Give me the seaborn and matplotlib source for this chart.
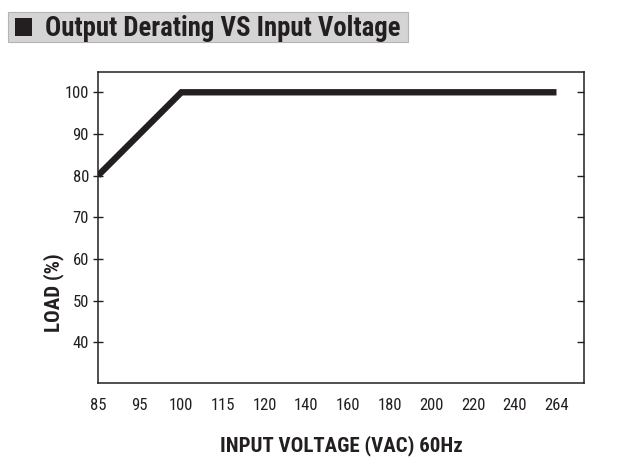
import matplotlib
matplotlib.use("Agg")
import matplotlib.pyplot as plt
from matplotlib import font_manager
from matplotlib.patches import Rectangle
import seaborn as sns
import pandas as pd

# ---- data ----
voltage_ticks = ["85", "95", "100", "115", "120", "140", "160", "180", "200", "220", "240", "264"]
curve_voltage = ["85", "100", "264"]
curve_load = [80, 100, 100]
load_ticks = [40, 50, 60, 70, 80, 90, 100]

title_text = "Output Derating VS Input Voltage"
xlabel_text = "INPUT VOLTAGE (VAC) 60Hz"
ylabel_text = "LOAD (%)"

sns.set_style("white")
fl = font_manager.fontManager.ttflist
names = {f.name for f in fl}
stretch = "normal"
fam = None
for cand in ["Liberation Sans Narrow", "Arial Narrow", "Roboto Condensed", "Open Sans Condensed"]:
    if cand in names:
        fam = cand
        break
if fam is None:
    cond = [f for f in fl if f.name == "DejaVu Sans" and str(f.stretch) in ("condensed", "semi-condensed")]
    if cond:
        fam = "DejaVu Sans"
        stretch = "condensed"
    else:
        fam = "Liberation Sans"
narrow = fam != "Liberation Sans"
plt.rcParams["font.family"] = [fam, "DejaVu Sans"]
plt.rcParams["font.stretch"] = stretch

df = pd.DataFrame({
    "pos": [voltage_ticks.index(v) for v in curve_voltage],
    "load": curve_load,
})

fig = plt.figure(figsize=(6.25, 4.65), dpi=100)
ax = fig.add_axes([98 / 625, 1 - 383 / 465, (584 - 98) / 625, (383 - 72.3) / 465])

sns.lineplot(data=df, x="pos", y="load", ax=ax, color="#231f20", linewidth=4.6,
             solid_capstyle="butt", solid_joinstyle="miter")

ax.set_xlim(0, 11.66)
ax.set_ylim(30.2, 104.8)
ax.set_xticks(range(len(voltage_ticks)))
ax.set_xticklabels(voltage_ticks)
ax.set_yticks(load_ticks)
ax.set_yticklabels([str(v) for v in load_ticks])
ax.set_xlabel("")
ax.set_ylabel("")

for s in ax.spines.values():
    s.set_visible(True)
    s.set_color("#231f20")
    s.set_linewidth(1.1)

tick_fs = 12 if narrow else 10
ax.tick_params(axis="x", direction="in", length=5, width=1, color="#231f20",
               labelsize=tick_fs, pad=11, labelcolor="#231f20")
ax.tick_params(axis="y", direction="inout", length=7, width=1, color="#231f20",
               labelsize=tick_fs, pad=3, labelcolor="#231f20", right=True, left=True)
for t in ax.yaxis.get_major_ticks():
    t.tick2line.set_marker(matplotlib.lines.TICKLEFT)
    t.tick2line.set_markersize(5)

lab_fs = 15 if narrow else 12.5
fig.text(341 / 625, 1 - 446 / 465, xlabel_text, ha="center", va="center",
         fontsize=lab_fs, fontweight="bold", color="#231f20")
fig.text(54 / 625, 1 - 293 / 465, ylabel_text, ha="center", va="center",
         rotation=90, fontsize=lab_fs, fontweight="bold", color="#231f20")

# title banner
fig.patches.append(Rectangle((8 / 625, 1 - 42 / 465), 400 / 625, 30 / 465,
                             transform=fig.transFigure, facecolor="#d4d4d4",
                             edgecolor="#b4b4b4", linewidth=0.8, zorder=0))
fig.patches.append(Rectangle((15 / 625, 1 - 36 / 465), 17 / 625, 18 / 465,
                             transform=fig.transFigure, facecolor="#231f20",
                             edgecolor="none", zorder=1))
title_fs = 19.3 if narrow else 15.5
fig.text(45 / 625, 1 - 28 / 465, title_text, ha="left", va="center",
         fontsize=title_fs, fontweight="bold", color="#231f20")

fig.savefig("out.png", dpi=100)
